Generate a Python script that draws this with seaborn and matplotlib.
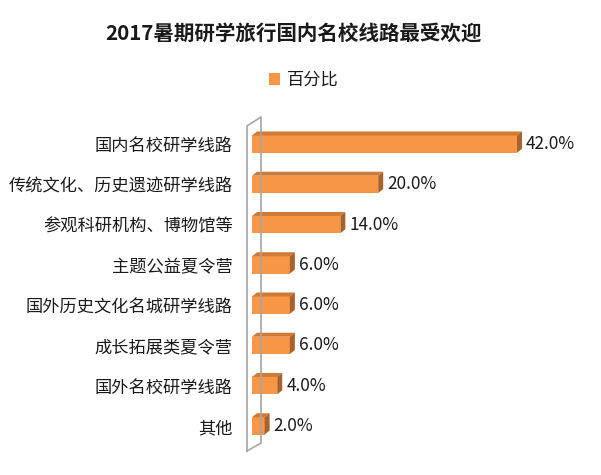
import matplotlib
matplotlib.use("Agg")
import matplotlib.pyplot as plt
import seaborn as sns
import pandas as pd
from matplotlib.patches import Polygon, Patch
from matplotlib.lines import Line2D

categories = ["国内名校研学线路", "传统文化、历史遗迹研学线路", "参观科研机构、博物馆等",
              "主题公益夏令营", "国外历史文化名城研学线路", "成长拓展类夏令营",
              "国外名校研学线路", "其他"]
values = [42.0, 20.0, 14.0, 6.0, 6.0, 6.0, 4.0, 2.0]
series_name = "百分比"
title = "2017暑期研学旅行国内名校线路最受欢迎"

sns.set_theme(style="white")
plt.rcParams['font.family'] = ['Noto Sans CJK SC', 'DejaVu Sans']

W, H = 601, 475
fig = plt.figure(figsize=(W / 100, H / 100), dpi=100)
ax_left, ax_right = 252, 567.5
ax_top, ax_bottom = 124, 446
ax = fig.add_axes([ax_left / W, 1 - ax_bottom / H, (ax_right - ax_left) / W, (ax_bottom - ax_top) / H])

front = "#F79646"
top_c = "#D07A36"
side_c = "#A9622B"
txt = "#1a1a1a"

df = pd.DataFrame({"cat": categories, "val": values})
sns.barplot(data=df, x="val", y="cat", color=front, saturation=1, width=0.43,
            ax=ax, edgecolor="none", legend=False)
ax.set_xlim(0, 50)
ax.set_ylim(len(categories) - 0.5, -0.5)
for s in ax.spines.values():
    s.set_visible(False)
ax.set_xticks([])
ax.set_xlabel("")
ax.set_ylabel("")
ax.tick_params(axis="y", length=0, pad=14, labelsize=12.4, labelcolor=txt)

fig.canvas.draw()
inv = ax.transData.inverted()
dx, dy = 5, 4
bars = list(ax.patches)
for p in bars:
    x0, y0 = p.get_x(), p.get_y()
    w, h = p.get_width(), p.get_height()
    (xl, yA) = ax.transData.transform((x0, y0))
    (xr, yB) = ax.transData.transform((x0 + w, y0 + h))
    yb, yt = min(yA, yB), max(yA, yB)
    topf = [(xl, yt), (xr, yt), (xr + dx, yt + dy), (xl + dx, yt + dy)]
    sidef = [(xr, yb), (xr, yt), (xr + dx, yt + dy), (xr + dx, yb + dy)]
    ax.add_patch(Polygon(inv.transform(topf), closed=True, facecolor=top_c, edgecolor="none", clip_on=False))
    ax.add_patch(Polygon(inv.transform(sidef), closed=True, facecolor=side_c, edgecolor="none", clip_on=False))

for p, v in zip(bars, values):
    yc = p.get_y() + p.get_height() / 2
    ax.annotate(f"{v:.1f}%", xy=(p.get_x() + p.get_width(), yc), xytext=(9, 0),
                textcoords="offset pixels", va="center", ha="left",
                fontsize=12.4, color=txt)

def px(x, y):
    return (x / W, 1 - y / H)
wall = [px(247, 451), px(247, 126), px(261, 117), px(261, 443), px(247, 451)]
fig.add_artist(Line2D([q[0] for q in wall], [q[1] for q in wall], color="#a6a6a6", lw=1.2))

fig.text(293 / W, 1 - 33 / H, title, ha="center", va="center", fontsize=14.8,
         fontweight="bold", color=txt)
leg = fig.legend(handles=[Patch(facecolor=front, edgecolor="none")], labels=[series_name],
                 loc="center", bbox_to_anchor=(304 / W, 1 - 80 / H), frameon=False, fontsize=12.4,
                 handlelength=0.65, handleheight=0.65, handletextpad=0.4)
for t in leg.get_texts():
    t.set_color(txt)

fig.savefig("out.png", dpi=100)
